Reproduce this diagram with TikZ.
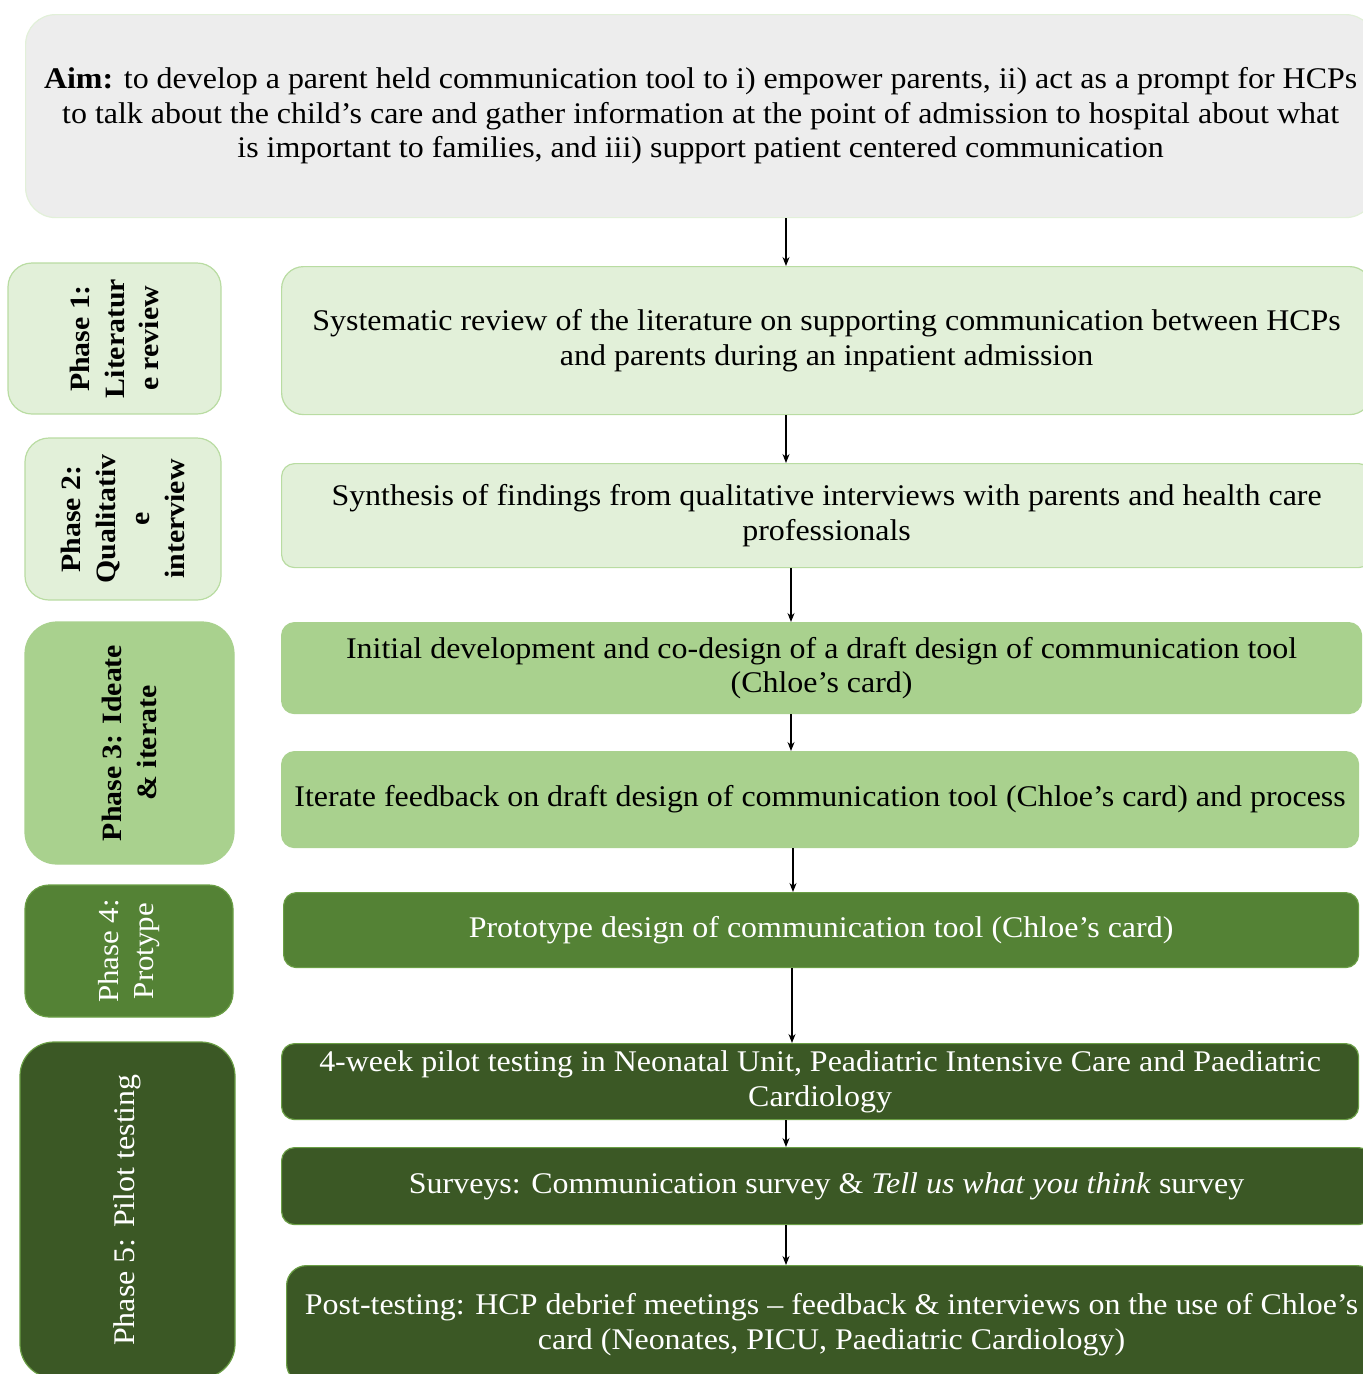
\documentclass[tikz,border=0pt]{standalone}
\usepackage{fontspec}
\setmainfont[FakeStretch=1.065]{Liberation Serif}
\usetikzlibrary{arrows.meta}
\definecolor{aimfill}{HTML}{EDEDED}
\definecolor{gA}{HTML}{E2F0D9}
\definecolor{gAb}{HTML}{B9DCA2}
\definecolor{gB}{HTML}{A9D18E}
\definecolor{gC}{HTML}{548235}
\definecolor{gD}{HTML}{3B5825}
\definecolor{gDb}{HTML}{6A9E45}
\tikzset{
  x=1pt, y=1pt,
  txt/.style={font=\fontsize{30}{34.5}\selectfont},
  ptxt/.style={font=\fontsize{28}{34.5}\selectfont},
  box/.style={rounded corners=13pt, line width=1.2pt, align=center, inner sep=0pt, anchor=north west, txt},
  lite/.style={box, fill=gA, draw=gAb},
  mid/.style={box, fill=gB, draw=gB},
  dark/.style={box, fill=gC, draw=gDb, text=white},
  darker/.style={box, fill=gD, draw=gDb, text=white},
  phase/.style={rotate=90, anchor=center, align=center, inner sep=0pt, line width=1.2pt, rounded corners=28pt},
  arr/.style={line width=1.2pt, -{Stealth[length=9pt,width=7pt]}}
}
\begin{document}
\begin{tikzpicture}
\useasboundingbox (0,0) rectangle (1363,-1374);
\clip (0,0) rectangle (1363,-1374);
% aim
\node[box, fill=aimfill, draw=gA, rounded corners=30pt, minimum width=1350, minimum height=203] (aim) at (25,-14)
 {\textbf{Aim:} to develop a parent held communication tool to i) empower parents, ii) act as a prompt for HCPs\\
  to talk about the child's care and gather information at the point of admission to hospital about what\\
  is important to families, and iii) support patient centered communication};
% phases
\node[phase, fill=gA, draw=gAb, minimum width=151, minimum height=213, ptxt, rounded corners=24pt] (p1) at (114.5,-338.5)
 {\textbf{Phase 1:}\\ \textbf{Literatur}\\ \textbf{e review}};
\node[phase, fill=gA, draw=gAb, minimum width=162, minimum height=196, ptxt, rounded corners=24pt] (p2) at (123,-519)
 {\textbf{Phase 2:}\\ \textbf{Qualitativ}\\ \textbf{e}\\ \textbf{interview}};
\node[phase, fill=gB, draw=gB, minimum width=242, minimum height=209, ptxt, rounded corners=32pt] (p3) at (129.5,-743)
 {\textbf{Phase 3: Ideate}\\ \textbf{\& iterate}};
\node[phase, fill=gC, draw=gDb, minimum width=132, minimum height=208, text=white, font=\fontsize{29}{34.5}\selectfont, rounded corners=24pt] (p4) at (129,-951)
 {Phase 4:\\ Protype};
\node[phase, fill=gD, draw=gDb, minimum width=336, minimum height=215, text=white, font=\fontsize{30}{34.5}\selectfont, rounded corners=34pt] (p5) at (127.5,-1210)
 {Phase 5: Pilot testing};
% steps
\node[lite, minimum width=1090, minimum height=148, rounded corners=22pt] (b1) at (281,-266)
 {Systematic review of the literature on supporting communication between HCPs\\ and parents during an inpatient admission};
\node[lite, minimum width=1090, minimum height=104] (b2) at (281,-463)
 {Synthesis of findings from qualitative interviews with parents and health care\\ professionals};
\node[mid, minimum width=1080, minimum height=91] (b3) at (281,-622)
 {Initial development and co-design of a draft design of communication tool\\ (Chloe's card)};
\node[mid, minimum width=1077, minimum height=96] (b4) at (281,-751)
 {Iterate feedback on draft design of communication tool (Chloe's card) and process};
\node[dark, minimum width=1075, minimum height=75] (b5) at (283,-892)
 {Prototype design of communication tool (Chloe's card)};
\node[darker, minimum width=1077, minimum height=76] (b6) at (281,-1043)
 {4-week pilot testing in Neonatal Unit, Peadiatric Intensive Care and Paediatric\\ Cardiology};
\node[darker, minimum width=1090, minimum height=77] (b7) at (281,-1147)
 {Surveys: Communication survey \& \textit{Tell us what you think} survey};
\node[darker, minimum width=1090, minimum height=118, rounded corners=20pt] (b8) at (286,-1265)
 {Post-testing: HCP debrief meetings -- feedback \& interviews on the use of Chloe's\\ card (Neonates, PICU, Paediatric Cardiology)};
% arrow columns
\coordinate (c1) at (786,0);
\coordinate (c3) at (791,0);
\coordinate (c5) at (793,0);
\coordinate (c6) at (792,0);
\draw[arr] (aim.south -| c1) -- (b1.north -| c1);
\draw[arr] (b1.south -| c1) -- (b2.north -| c1);
\draw[arr] (b2.south -| c3) -- (b3.north -| c3);
\draw[arr] (b3.south -| c3) -- (b4.north -| c3);
\draw[arr] (b4.south -| c5) -- (b5.north -| c5);
\draw[arr] (b5.south -| c6) -- (b6.north -| c6);
\draw[arr] (b6.south -| c1) -- (b7.north -| c1);
\draw[arr] (b7.south -| c1) -- (b8.north -| c1);
\end{tikzpicture}
\end{document}
